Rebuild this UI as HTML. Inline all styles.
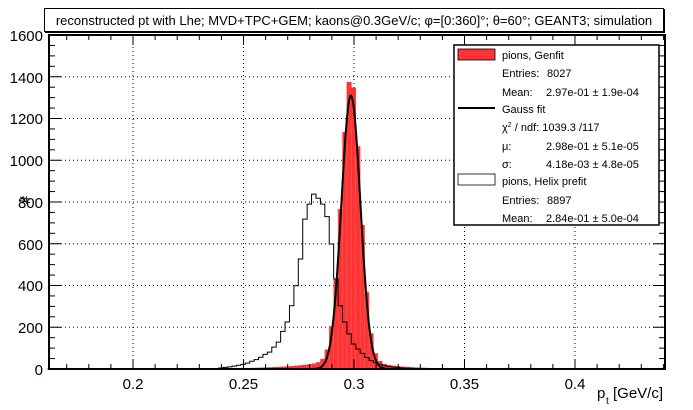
<!DOCTYPE html>
<html><head><meta charset="utf-8"><style>
html,body{margin:0;padding:0;background:#fff;}
svg{display:block;font-family:"Liberation Sans",sans-serif;}
</style></head><body>
<svg id="s" width="693" height="410" xmlns="http://www.w3.org/2000/svg">
<rect width="693" height="410" fill="#fff"/>
<g id="grid"></g>
<g id="hists"></g>
<rect x="49" y="35" width="616" height="334" fill="none" stroke="#000" stroke-width="2"/>
<g id="ticks"></g>
<g font-size="15" fill="#000">
<text x="43" y="41" text-anchor="end">1600</text>
<text x="43" y="83" text-anchor="end">1400</text>
<text x="43" y="124" text-anchor="end">1200</text>
<text x="43" y="166" text-anchor="end">1000</text>
<text x="43" y="208" text-anchor="end">800</text>
<text x="43" y="250" text-anchor="end">600</text>
<text x="43" y="291" text-anchor="end">400</text>
<text x="43" y="333" text-anchor="end">200</text>
<text x="43" y="375" text-anchor="end">0</text>
<text x="133" y="389" text-anchor="middle">0.2</text>
<text x="243.5" y="389" text-anchor="middle">0.25</text>
<text x="354" y="389" text-anchor="middle">0.3</text>
<text x="464.5" y="389" text-anchor="middle">0.35</text>
<text x="575" y="389" text-anchor="middle">0.4</text>
<text x="26" y="208" transform="rotate(-90 26 204)">#</text>
<text x="597" y="398">p</text><text x="606" y="404" font-size="10">t</text><text x="613" y="398">[GeV/c]</text>
</g>
<rect x="44.5" y="8.5" width="619" height="23" fill="#fff" stroke="#000"/>
<rect x="45" y="31" width="619" height="2" fill="#000"/>
<rect x="663" y="9" width="2" height="24" fill="#000"/>
<text x="354" y="25" font-size="13" text-anchor="middle">reconstructed pt with Lhe; MVD+TPC+GEM; kaons@0.3GeV/c; φ=[0:360]°; θ=60°; GEANT3; simulation</text>
<rect x="454" y="45" width="205" height="180" fill="#fff" stroke="#000" stroke-width="1.5"/>
<rect x="458" y="49" width="37" height="11" fill="#ff3333" stroke="#000" stroke-width="0.8"/>
<line x1="458" y1="108" x2="495" y2="108" stroke="#000" stroke-width="2"/>
<rect x="458" y="174" width="37" height="11" fill="#fff" stroke="#000" stroke-width="0.8"/>
<g font-size="11">
<text x="502" y="59">pions, Genfit</text>
<text x="502" y="77">Entries:</text><text x="547" y="77">8027</text>
<text x="502" y="96">Mean:</text><text x="546" y="96">2.97e-01 ± 1.9e-04</text>
<text x="502" y="113">Gauss fit</text>
<text x="502" y="131">χ<tspan font-size="7" dy="-4">2</tspan><tspan dy="4"> / ndf:  1039.3 /117</tspan></text>
<text x="502" y="150">μ:</text><text x="546" y="150">2.98e-01 ± 5.1e-05</text>
<text x="502" y="168">σ:</text><text x="546" y="168">4.18e-03 ± 4.8e-05</text>
<text x="502" y="185">pions, Helix prefit</text>
<text x="502" y="204">Entries:</text><text x="547" y="204">8897</text>
<text x="502" y="222">Mean:</text><text x="546" y="222">2.84e-01 ± 5.0e-04</text>
</g>
</svg>
<script>
var NS="http://www.w3.org/2000/svg";
function X(v){return 133+(v-0.2)*2210;}
function Y(c){return 369-c*0.20875;}
function el(p,t,a){var e=document.createElementNS(NS,t);for(var k in a)e.setAttribute(k,a[k]);document.getElementById(p).appendChild(e);return e;}
[0.2,0.25,0.3,0.35,0.4].forEach(function(v){el("grid","line",{x1:X(v),x2:X(v),y1:35,y2:369,stroke:"#000","stroke-dasharray":"1,3","stroke-width":1});});
for(var c=200;c<1600;c+=200)el("grid","line",{x1:49,x2:665,y1:Y(c),y2:Y(c),stroke:"#000","stroke-dasharray":"1,3","stroke-width":1});
for(var i=-3;i<=24;i++){var v=0.2+i*0.01;var x=X(v);if(x<50||x>664)continue;var maj=(i%5==0);var L=maj?10:5;
 el("ticks","line",{x1:x,x2:x,y1:369,y2:369-L,stroke:"#000"});el("ticks","line",{x1:x,x2:x,y1:35,y2:35+L,stroke:"#000"});}
for(var c=0;c<=1600;c+=50){var L=(c%200==0)?12:6;
 el("ticks","line",{x1:49,x2:49+L,y1:Y(c),y2:Y(c),stroke:"#000"});el("ticks","line",{x1:665,x2:665-L,y1:Y(c),y2:Y(c),stroke:"#000"});}
var w=0.002,x0=0.1608,d="M"+X(x0)+" "+Y(0);
for(var i=0;i<140;i++){var a=x0+i*w,m=a+w/2;
 var h=1330*Math.exp(-Math.pow(m-0.2986,2)/(2*0.0043*0.0043));
 var t=0;if(m<0.2986)t=70*Math.exp(-(0.2986-m)/0.016);else t=75*Math.exp(-(m-0.2986)/0.012);
 if(m<0.24)t*=Math.max(0,(m-0.2)/0.04);
 h+=t;if(h<0.5)h=0;
 d+=" L"+X(a)+" "+Y(h)+" L"+X(a+w)+" "+Y(h);}
d+=" L"+X(x0+140*w)+" "+Y(0)+" Z";
el("hists","path",{d:d,fill:"#ff3333",stroke:"#ff3333","stroke-width":0.5});
for(var i=60;i<80;i++)el("hists","line",{x1:X(x0+i*w),x2:X(x0+i*w),y1:Y(0),y2:Y(1200),stroke:"rgba(255,255,255,0.25)","stroke-width":0.5});
var hv=[5,8,10,14,18,22,28,37,45,56,70,81,105,129,180,225,303,399,527,718,790,838,818,790,730,599,431,303,225,168,120,95,75,55,40,30,22,16,12,9,7,5,4,3,2];
var hs=0.2388;
d="M"+X(0.17)+" "+Y(0)+" L"+X(hs)+" "+Y(0);
for(var i=0;i<hv.length;i++){var a=hs+i*w;d+=" L"+X(a)+" "+Y(hv[i])+" L"+X(a+w)+" "+Y(hv[i]);}
d+=" L"+X(hs+hv.length*w)+" "+Y(1)+" L"+X(0.36)+" "+Y(1)+" L"+X(0.36)+" "+Y(0)+" L"+X(0.43)+" "+Y(0);
el("hists","path",{d:d,fill:"none",stroke:"#000","stroke-width":1});
d="";for(var v=0.27;v<=0.33;v+=0.0002){var h=1310*Math.exp(-Math.pow(v-0.2986,2)/(2*0.0043*0.0043));d+=(d?" L":"M")+X(v).toFixed(2)+" "+Y(h).toFixed(2);}
el("hists","path",{d:d,fill:"none",stroke:"#000","stroke-width":2});
</script>
</body></html>
